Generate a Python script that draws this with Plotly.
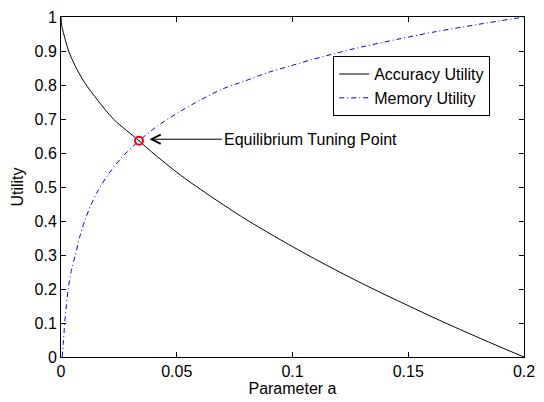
import plotly.graph_objects as go

# Accuracy utility (black solid)
acc_x = [0, 0.0003, 0.001, 0.0033, 0.006, 0.0102, 0.016, 0.0226, 0.0337, 0.039, 0.052,
         0.065, 0.0796, 0.095, 0.1095, 0.1237, 0.137, 0.150, 0.1622, 0.175, 0.1875, 0.2]
acc_y = [1.0, 0.975, 0.955, 0.90, 0.858, 0.807, 0.754, 0.70, 0.636, 0.604, 0.533,
         0.471, 0.406, 0.344, 0.289, 0.238, 0.193, 0.151, 0.112, 0.073, 0.036, 0.0]

# Memory utility (blue dash-dot)
mem_x = [0.0005, 0.001, 0.0016, 0.0023, 0.0031, 0.0045, 0.0062, 0.008, 0.0102, 0.013,
         0.0159, 0.020, 0.026, 0.0337, 0.042, 0.0511, 0.060, 0.0696, 0.0795, 0.0895,
         0.099, 0.108, 0.118, 0.128, 0.145, 0.162, 0.18, 0.2]
mem_y = [0.0, 0.04, 0.10, 0.15, 0.20, 0.255, 0.30, 0.351, 0.40, 0.448,
         0.488, 0.533, 0.585, 0.636, 0.681, 0.721, 0.755, 0.788, 0.812, 0.837,
         0.856, 0.874, 0.892, 0.909, 0.934, 0.957, 0.978, 1.0]

# Equilibrium point
eq_x = [0.0337]
eq_y = [0.636]
eq_label = "Equilibrium Tuning Point"

x_ticks = [0, 0.05, 0.1, 0.15, 0.2]
x_tick_labels = ["0", "0.05", "0.1", "0.15", "0.2"]
y_ticks = [0, 0.1, 0.2, 0.3, 0.4, 0.5, 0.6, 0.7, 0.8, 0.9, 1]
y_tick_labels = ["0", "0.1", "0.2", "0.3", "0.4", "0.5", "0.6", "0.7", "0.8", "0.9", "1"]

FONT = dict(family="Liberation Sans, Arial, Helvetica, sans-serif", size=16, color="black")

fig = go.Figure()
fig.add_trace(go.Scatter(x=acc_x, y=acc_y, mode="lines", name="Accuracy Utility",
                         line=dict(color="black", width=1, shape="spline", smoothing=0.8)))
fig.add_trace(go.Scatter(x=mem_x, y=mem_y, mode="lines", name="Memory Utility",
                         line=dict(color="#0000ff", width=1, dash="5px,3px,1px,3px",
                                   shape="spline", smoothing=0.8)))
fig.add_trace(go.Scatter(x=eq_x, y=eq_y, mode="markers", showlegend=False,
                         marker=dict(symbol="circle-open", size=8, color="red",
                                     line=dict(color="red", width=2))))

fig.add_annotation(x=0.03825, y=0.6405, ax=0.0695, ay=0.6405, xref="x", yref="y",
                   axref="x", ayref="y", text=eq_label, showarrow=True,
                   arrowhead=5, arrowsize=1.8, arrowwidth=1, arrowcolor="black",
                   xanchor="left", yanchor="middle", font=FONT)

axis_common = dict(showline=True, linecolor="black", linewidth=1, mirror="ticks",
                   ticks="inside", ticklen=5, tickwidth=1, tickcolor="black",
                   showgrid=False, zeroline=False, tickfont=FONT)

fig.update_xaxes(range=[0, 0.2], tickvals=x_ticks, ticktext=x_tick_labels,
                 title=dict(text="Parameter a", font=FONT, standoff=1), **axis_common)
fig.update_yaxes(range=[0, 1], tickvals=y_ticks, ticktext=y_tick_labels,
                 title=dict(text="Utility", font=FONT, standoff=6), **axis_common)

fig.update_layout(
    width=544, height=402,
    margin=dict(l=61, r=16, t=9, b=45),
    paper_bgcolor="white", plot_bgcolor="white",
    font=FONT,
    legend=dict(x=0.927, y=0.885, xanchor="right", yanchor="top",
                bgcolor="white", bordercolor="black", borderwidth=1,
                font=FONT, itemwidth=30, tracegroupgap=0),
)

fig.write_html("out.html", config={"displayModeBar": False},
               post_script="document.body.style.margin='0';document.body.style.padding='0';")
